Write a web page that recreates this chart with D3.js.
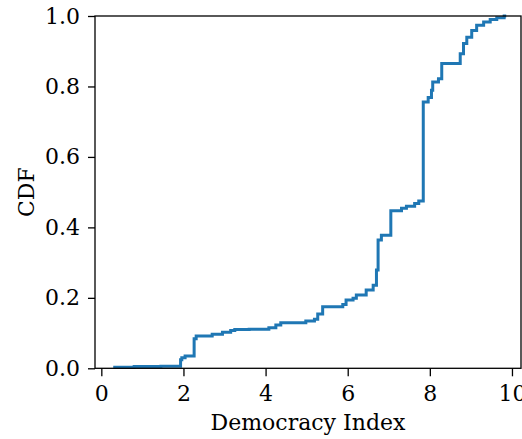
<!DOCTYPE html>
<html>
<head>
<meta charset="utf-8">
<script src="https://cdn.jsdelivr.net/npm/d3@7"></script>
<style>
  body { margin: 0; background: #fff; }
  text { font-family: "DejaVu Serif", serif; fill: #000; }
</style>
</head>
<body>
<svg></svg>
<script>
const d3 = window.d3

// democracy index score where the CDF steps, and the CDF value after the step
let scores = [0.29, 0.8, 1.45, 1.93, 1.96, 2.04, 2.26, 2.31, 2.70, 2.95, 3.15, 3.25, 3.6,
              4.08, 4.25, 4.37, 4.98, 5.19, 5.27, 5.39, 5.88, 5.96, 6.13, 6.21, 6.45,
              6.62, 6.70, 6.74, 6.82, 7.05, 7.31, 7.43, 7.63, 7.73, 7.84, 7.96, 8.04,
              8.07, 8.21, 8.29, 8.74, 8.82, 8.90, 9.02, 9.14, 9.31, 9.47, 9.63, 9.81, 9.86]
let cdf = [0.003, 0.005, 0.006, 0.024, 0.030, 0.035, 0.084, 0.092, 0.097, 0.102, 0.107, 0.110, 0.111,
           0.115, 0.123, 0.129, 0.134, 0.139, 0.154, 0.175, 0.181, 0.194, 0.199, 0.208, 0.222,
           0.236, 0.279, 0.364, 0.378, 0.447, 0.454, 0.460, 0.468, 0.475, 0.756, 0.769, 0.789,
           0.813, 0.822, 0.865, 0.893, 0.922, 0.940, 0.959, 0.974, 0.983, 0.990, 0.995, 1.0, 1.0]

let xTicks = [0, 2, 4, 6, 8, 10]
let yTicks = [0, 0.2, 0.4, 0.6, 0.8, 1.0]

let width = 522
let height = 439
let margin = { top: 16, right: 1, bottom: 70.7, left: 95 }
let fontSize = '22px'

let xScale = d3.scaleLinear()
                .domain([-0.154, 10.22])
                .range([margin.left, width - margin.right])

let yScale = d3.scaleLinear()
                .domain([0, 1])
                .range([height - margin.bottom, margin.top])

let svg = d3.select('svg')
    .attr('width', width)
    .attr('height', height)

let data = scores.map((s, i) => ({ x: s, y: cdf[i] }))

let line = d3.line()
              .x(d => xScale(d.x))
              .y(d => yScale(d.y))
              .curve(d3.curveStepAfter)

svg.append('path')
    .datum(data)
    .attr('d', line)
    .attr('fill', 'none')
    .attr('stroke', '#1f77b4')
    .attr('stroke-width', 3)

let xAxis = d3.axisBottom(xScale)
              .tickValues(xTicks)
              .tickFormat(d3.format('d'))
              .tickSize(8)
              .tickSizeOuter(0)
              .tickPadding(9)

let yAxis = d3.axisLeft(yScale)
              .tickValues(yTicks)
              .tickFormat(d3.format('.1f'))
              .tickSize(7)
              .tickSizeOuter(0)
              .tickPadding(8)

let gx = svg.append('g')
    .attr('transform', `translate(0, ${height - margin.bottom})`)
    .call(xAxis)

let gy = svg.append('g')
    .attr('transform', `translate(${margin.left}, 0)`)
    .call(yAxis)

;[gx, gy].forEach(g => {
  g.attr('font-size', null).attr('font-family', null)
  g.selectAll('.tick line').attr('stroke', '#000').attr('stroke-width', 1.3)
  g.selectAll('.tick text')
    .attr('fill', '#000')
    .style('font-size', fontSize)
  g.select('.domain').remove()
})

// frame
svg.append('rect')
    .attr('x', margin.left)
    .attr('y', margin.top)
    .attr('width', width - margin.left - margin.right)
    .attr('height', height - margin.top - margin.bottom)
    .attr('fill', 'none')
    .attr('stroke', '#000')
    .attr('stroke-width', 1.3)

// x-axis label:
svg.append('text')
    .attr('x', (margin.left + width - margin.right) / 2)
    .attr('y', 430)
    .style('text-anchor', 'middle')
    .style('font-size', fontSize)
    .text('Democracy Index')

// y-axis label:
svg.append('text')
    .attr('transform', `translate(34, ${(margin.top + height - margin.bottom) / 2}) rotate(-90)`)
    .style('text-anchor', 'middle')
    .style('font-size', fontSize)
    .text('CDF')
</script>
</body>
</html>
